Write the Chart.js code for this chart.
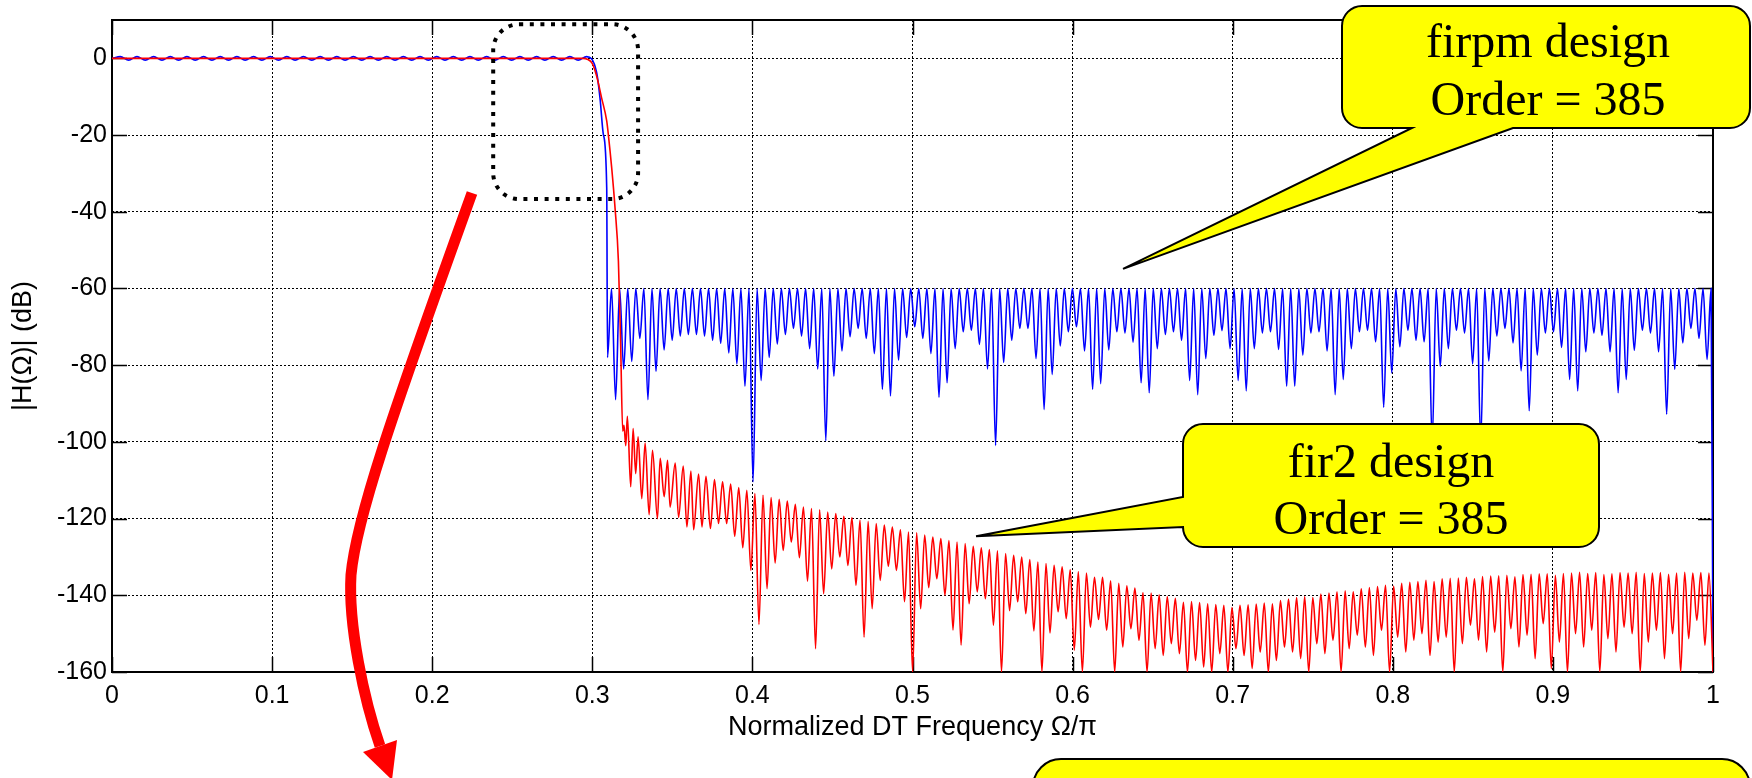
<!DOCTYPE html>
<html>
<head>
<meta charset="utf-8">
<title>firpm vs fir2 magnitude response</title>
<script src="https://cdn.jsdelivr.net/npm/chart.js"></script>
<style>
  html, body { margin: 0; padding: 0; background: #fff; }
  #wrap { width: 1752px; height: 778px; position: relative; }
</style>
</head>
<body>
<div id="wrap"><canvas id="resp"></canvas></div>
<script>
// axis ticks
var xTicks = [0, 0.1, 0.2, 0.3, 0.4, 0.5, 0.6, 0.7, 0.8, 0.9, 1];
var xTickLabels = ['0', '0.1', '0.2', '0.3', '0.4', '0.5', '0.6', '0.7', '0.8', '0.9', '1'];
var yTicks = [-160, -140, -120, -100, -80, -60, -40, -20, 0];
var yTickLabels = ['-160', '-140', '-120', '-100', '-80', '-60', '-40', '-20', '0'];

// firpm: passband ripple (dB), one sample every firpmPassStep
var firpmPassStep = 0.0052;
var firpmPassDb = [
  0, 0.45, -0.45, 0.45, -0.45, 0.45, -0.45, 0.45, -0.45, 0.45,
  -0.45, 0.45, -0.45, 0.45, -0.45, 0.45, -0.45, 0.45, -0.45, 0.45,
  -0.45, 0.45, -0.45, 0.45, -0.45, 0.45, -0.45, 0.45, -0.45, 0.45,
  -0.45, 0.45, -0.45, 0.45, -0.45, 0.45, -0.45, 0.45, -0.45, 0.45,
  -0.45, 0.45, -0.45, 0.45, -0.45, 0.45, -0.45, 0.45, -0.45, 0.45,
  -0.45, 0.45, -0.45, 0.45, -0.45, 0.45, -0.45, 0.45
];
// firpm: band edge
var firpmEdgeFreq = [0.3027, 0.3048, 0.3069, 0.309];
var firpmEdgeDb = [-3.7, -10.3, -19.8, -33.7];
// firpm: stopband, equiripple peaks and the null between each pair
var firpmNullStart = 0.3095;
var firpmNullStep = 0.00505;
var firpmPeakDb = -60;
var firpmNullDb = [
  -78, -89, -81, -79, -73, -89, -81.6, -76, -73.5, -72.4,
  -72, -72, -72.4, -73.5, -74.3, -76.8, -79.7, -85.5, -110.4, -84,
  -78, -74.5, -72, -70.4, -72.4, -75.7, -81, -99.7, -82.9, -76.3,
  -72.6, -70.4, -73, -77, -86.3, -88, -78.7, -72.8, -70, -73,
  -77, -88.4, -84.6, -75.7, -71.3, -70.9, -74.6, -81, -100.9, -79.3,
  -73.5, -70.4, -70.4, -78.3, -91.6, -82.4, -75, -71.3, -70, -76.3,
  -86.3, -84.8, -76, -71.3, -71.6, -74, -84.6, -87.2, -75.7, -72,
  -71.3, -73.5, -84, -87.7, -78.3, -72.2, -71, -75.7, -84, -86.7,
  -75.7, -71.6, -71.3, -75.9, -85.5, -85.5, -77.4, -71.6, -71.3, -76.3,
  -87.7, -83.7, -75.7, -71.3, -70.9, -73.9, -91, -82, -75.2, -70.9,
  -73.5, -73.9, -100, -80.3, -75.7, -70.9, -71.6, -79.7, -100, -78.9,
  -72.4, -70.4, -74.2, -81.5, -91.9, -77.4, -71.6, -71.3, -75.4, -83.7,
  -86.7, -76.5, -71.6, -72.2, -76.5, -87.2, -83.7, -76.1, -70.9, -71.6,
  -76.5, -92.8, -81.1, -74.2, -70.4, -73, -78.5
];
var firpmTailFreq = [0.9988, 1.0];
var firpmTailDb = [-60, -160];

// fir2: passband, roll-off and the first irregular lobes
var fir2EdgeFreq = [
  0, 0.294, 0.2996, 0.3027, 0.3058, 0.309, 0.31, 0.3121, 0.3142, 0.3163,
  0.3177, 0.319, 0.3198, 0.3209, 0.3219, 0.324, 0.3255, 0.3271, 0.3286, 0.3309,
  0.333, 0.3355, 0.3376, 0.3407, 0.3424, 0.3449, 0.347, 0.3486, 0.3518, 0.3539,
  0.3568, 0.3591, 0.3616, 0.3633, 0.3664, 0.3685, 0.371
];
var fir2EdgeDb = [
  0, 0, -1.1, -4.6, -10.3, -16.3, -19.8, -28.5, -39, -52.8,
  -74.5, -97.2, -95.7, -101, -93.3, -111.7, -96.5, -108.3, -98.7, -114.8,
  -100.3, -119, -102.2, -120, -104.3, -114.3, -104.8, -117, -105.5, -119.7,
  -106.3, -122.2, -107.6, -122.9, -108.4, -122.2, -109
];
// fir2: stopband nulls and the lobe peaks between them
var fir2NullStart = 0.3738;
var fir2NullStep = 0.00505;
var fir2NullDb = [
  -122.6, -121.3, -121.3, -124.6, -127.6, -133.5, -147.6, -138.3, -131.6, -128.3,
  -126.1, -130.2, -136.3, -153.9, -139.6, -133.1, -130, -132.2, -137.4, -150.9,
  -143.5, -136.1, -132.4, -133.5, -141.7, -160, -143.5, -138, -135.7, -140,
  -149.1, -153, -142.2, -139.1, -140.9, -147.8, -160, -144, -141.7, -144.8,
  -149.3, -160, -149.8, -144.3, -146.1, -154.3, -160, -148.3, -146.3, -149.1,
  -160, -153.5, -148.7, -151.7, -160, -153.9, -155.7, -152.6, -155.2, -160,
  -157, -158.7, -160, -155.2, -160, -153.9, -155.7, -159.1, -154.8, -160,
  -157, -153.5, -154.8, -156.5, -160, -152.6, -155.2, -151.7, -160, -153.9,
  -150.4, -153.5, -155.7, -149.1, -160, -150.9, -154.8, -151.7, -150, -155.7,
  -152.2, -150.9, -160, -152.6, -147.8, -151.7, -154.8, -149.6, -160, -148.7,
  -153.5, -150.4, -156.5, -147.4, -159.1, -152.2, -160, -150, -153.5, -149.1,
  -160, -151.3, -154.8, -148.3, -150, -160, -152.2, -149.1, -156.5, -150,
  -160, -151.3, -146.5, -153, -160
];
var fir2PeakDb = [
  -109.8, -110.4, -111, -111.9, -112.6, -113.5, -113.9, -114.5, -115, -115.4,
  -116.3, -117, -117.4, -117.7, -118.3, -118.7, -119.4, -119.7, -120.4, -120.7,
  -121.3, -121.7, -122.2, -122.9, -123.5, -123.7, -124.3, -124.8, -125.2, -125.7,
  -126.1, -126.5, -127.2, -127.6, -128.1, -128.4, -129.1, -129.6, -130, -130.7,
  -131.3, -131.7, -132.2, -132.6, -133.3, -133.8, -134.2, -135.3, -135.3, -136.2,
  -136.9, -137.5, -138.1, -139.3, -139.4, -139.9, -140.3, -140.8, -141.8, -141.6,
  -141.9, -142.2, -142.4, -142.6, -143.2, -142.6, -142.5, -142.3, -142, -142.2,
  -141.4, -141, -140.6, -140.3, -140.6, -139.7, -139.4, -139.1, -138.8, -139.1,
  -138.3, -138, -137.7, -137.4, -137.6, -136.9, -136.6, -136.4, -136.1, -136.4,
  -135.7, -135.6, -135.5, -135.3, -135.7, -135.1, -135, -134.9, -134.8, -135.2,
  -134.6, -134.5, -134.4, -134.4, -134.8, -134.3, -134.2, -134, -134.3, -134.1,
  -134.6, -134.4, -134.1, -134.2, -134, -134.3, -134.2, -134.1, -134.5, -134.2,
  -134, -134.2, -134.1, -134.2
];

// stopband lobes: null, peak, null, peak ... on an even grid
function lobes(start, step, nulls, peaks) {
  var pts = [];
  for (var k = 0; k < nulls.length; k++) {
    pts.push({ x: start + k * step, y: nulls[k] });
    if (k < nulls.length - 1) {
      pts.push({ x: start + (k + 0.5) * step, y: Array.isArray(peaks) ? peaks[k] : peaks });
    }
  }
  return pts;
}

function pairs(fs, dbs) {
  return fs.map(function (f, i) { return { x: f, y: dbs[i] }; });
}

var firpmData = firpmPassDb.map(function (v, i) { return { x: i * firpmPassStep, y: v }; })
  .concat(pairs(firpmEdgeFreq, firpmEdgeDb))
  .concat(lobes(firpmNullStart, firpmNullStep, firpmNullDb, firpmPeakDb))
  .concat(pairs(firpmTailFreq, firpmTailDb));

var fir2Data = pairs(fir2EdgeFreq, fir2EdgeDb)
  .concat(lobes(fir2NullStart, fir2NullStep, fir2NullDb, fir2PeakDb));

// rounded rectangle with an optional pointer on its bottom or left side
function calloutPath(ctx, l, t, r, b, rad, tail) {
  ctx.beginPath();
  ctx.moveTo(l + rad, t);
  ctx.lineTo(r - rad, t);
  ctx.arcTo(r, t, r, t + rad, rad);
  ctx.lineTo(r, b - rad);
  ctx.arcTo(r, b, r - rad, b, rad);
  if (tail && tail.side === 'bottom') {
    ctx.lineTo(tail.to, b);
    ctx.lineTo(tail.tip[0], tail.tip[1]);
    ctx.lineTo(tail.from, b);
  }
  ctx.lineTo(l + rad, b);
  ctx.arcTo(l, b, l, b - rad, rad);
  if (tail && tail.side === 'left') {
    ctx.lineTo(l, tail.to);
    ctx.lineTo(tail.tip[0], tail.tip[1]);
    ctx.lineTo(l, tail.from);
  }
  ctx.lineTo(l, t + rad);
  ctx.arcTo(l, t, l + rad, t, rad);
  ctx.closePath();
}

function callout(ctx, box, tail, lines) {
  ctx.save();
  calloutPath(ctx, box.l, box.t, box.r, box.b, box.rad, tail);
  ctx.fillStyle = '#ffff00';
  ctx.fill();
  ctx.lineWidth = 2;
  ctx.strokeStyle = '#000';
  ctx.stroke();
  if (lines) {
    ctx.fillStyle = '#000';
    ctx.font = '48px "Liberation Serif", "Times New Roman", serif';
    ctx.textAlign = 'center';
    ctx.textBaseline = 'alphabetic';
    lines.forEach(function (ln) { ctx.fillText(ln.text, box.cx, ln.y); });
  }
  ctx.restore();
}

var decor = {
  id: 'decor',
  beforeDatasetsDraw: function (chart) {
    var ctx = chart.ctx, a = chart.chartArea, sx = chart.scales.x, sy = chart.scales.y;
    var tl = 15;
    ctx.save();
    ctx.strokeStyle = '#000';
    ctx.lineWidth = 1.5;
    ctx.beginPath();
    xTicks.forEach(function (v) {
      var px = Math.round(sx.getPixelForValue(v)) + 0.5;
      ctx.moveTo(px, a.bottom); ctx.lineTo(px, a.bottom - tl);
      ctx.moveTo(px, a.top); ctx.lineTo(px, a.top + tl);
    });
    yTicks.forEach(function (v) {
      var py = Math.round(sy.getPixelForValue(v)) + 0.5;
      ctx.moveTo(a.left, py); ctx.lineTo(a.left + tl, py);
      ctx.moveTo(a.right, py); ctx.lineTo(a.right - tl, py);
    });
    ctx.stroke();
    ctx.lineWidth = 2;
    ctx.strokeRect(a.left, a.top, a.right - a.left, a.bottom - a.top);
    ctx.restore();
  },
  afterDraw: function (chart) {
    var ctx = chart.ctx, sx = chart.scales.x, sy = chart.scales.y;

    // dotted frame round the band edge
    var l = sx.getPixelForValue(0.2381), r = sx.getPixelForValue(0.3286);
    var t = sy.getPixelForValue(8.9), b = sy.getPixelForValue(-36.7);
    ctx.save();
    calloutPath(ctx, l, t, r, b, 26, null);
    ctx.setLineDash([4, 6.6]);
    ctx.lineWidth = 4;
    ctx.strokeStyle = '#000';
    ctx.stroke();
    ctx.restore();

    // red arrow leading down from the frame
    ctx.save();
    ctx.strokeStyle = '#ff0000';
    ctx.fillStyle = '#ff0000';
    ctx.lineWidth = 11;
    ctx.lineCap = 'butt';
    ctx.beginPath();
    ctx.moveTo(472, 193);
    ctx.bezierCurveTo(389, 423, 356, 520, 351, 575);
    ctx.bezierCurveTo(348, 625, 364, 700, 380, 746);
    ctx.stroke();
    ctx.beginPath();
    ctx.moveTo(392, 780);
    ctx.lineTo(363, 752);
    ctx.lineTo(397, 740);
    ctx.closePath();
    ctx.fill();
    ctx.restore();

    // callouts
    callout(ctx, { l: 1342, t: 6, r: 1750, b: 128, rad: 20, cx: 1548 },
      { side: 'bottom', from: 1412, to: 1513, tip: [sx.getPixelForValue(0.6315), sy.getPixelForValue(-54.9)] },
      [{ text: 'firpm design', y: 57 }, { text: 'Order = 385', y: 115 }]);
    callout(ctx, { l: 1183, t: 424, r: 1599, b: 547, rad: 20, cx: 1391 },
      { side: 'left', from: 497, to: 527, tip: [sx.getPixelForValue(0.5397), sy.getPixelForValue(-124.6)] },
      [{ text: 'fir2 design', y: 477 }, { text: 'Order = 385', y: 534 }]);
    callout(ctx, { l: 1033, t: 759, r: 1750, b: 830, rad: 28, cx: 1391 }, null, null);
  }
};

var tickFont = { family: '"Liberation Sans", Arial, sans-serif', size: 25 };
var titleFont = { family: '"Liberation Sans", Arial, sans-serif', size: 27 };

new Chart(document.getElementById('resp'), {
  type: 'line',
  data: {
    datasets: [
      {
        label: 'fir2',
        data: fir2Data,
        borderColor: '#ff0000',
        borderWidth: 1.6,
        pointRadius: 0,
        cubicInterpolationMode: 'monotone'
      },
      {
        label: 'firpm',
        data: firpmData,
        borderColor: '#0000ff',
        borderWidth: 1.6,
        pointRadius: 0,
        cubicInterpolationMode: 'monotone'
      }
    ]
  },
  options: {
    responsive: true,
    maintainAspectRatio: false,
    animation: false,
    devicePixelRatio: 1,
    parsing: false,
    normalized: true,
    layout: { padding: { left: 0, top: 19, right: 39, bottom: 0 } },
    plugins: { legend: { display: false }, tooltip: { enabled: false } },
    scales: {
      x: {
        type: 'linear',
        min: 0,
        max: 1,
        afterFit: function (s) { s.height = 106; },
        afterBuildTicks: function (s) { s.ticks = xTicks.map(function (v) { return { value: v }; }); },
        ticks: {
          callback: function (v, i) { return xTickLabels[i]; },
          font: tickFont, color: '#000', padding: 9, maxRotation: 0, autoSkip: false
        },
        grid: { color: '#000', lineWidth: 1, drawTicks: false },
        border: { display: false, dash: [2, 2] },
        title: {
          display: true, text: 'Normalized DT Frequency \u03A9/\u03C0',
          font: titleFont, color: '#000', padding: { top: 0, bottom: 34 }
        }
      },
      y: {
        type: 'linear',
        min: -160,
        max: 10,
        afterFit: function (s) { s.width = 112; },
        afterBuildTicks: function (s) { s.ticks = yTicks.map(function (v) { return { value: v }; }); },
        ticks: {
          callback: function (v, i) { return yTickLabels[i]; },
          font: tickFont, color: '#000', padding: 5, autoSkip: false
        },
        grid: { color: '#000', lineWidth: 1, drawTicks: false },
        border: { display: false, dash: [2, 2] },
        title: {
          display: true, text: '|H(\u03A9)| (dB)',
          font: titleFont, color: '#000', padding: { top: 7, bottom: 0 }
        }
      }
    }
  },
  plugins: [decor]
});
</script>
</body>
</html>
